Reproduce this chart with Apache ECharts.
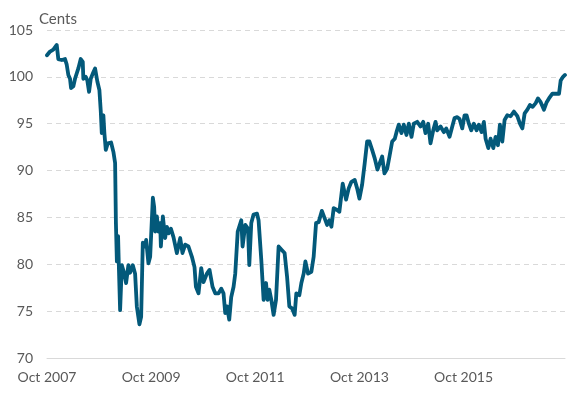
<!DOCTYPE html>
<html>
<head>
<meta charset="utf-8">
<script src="https://cdn.jsdelivr.net/npm/echarts@6/dist/echarts.min.js"></script>
<style>html,body{margin:0;padding:0;background:#fff}#c{width:576px;height:394px}</style>
</head>
<body>
<div id="c"></div>
<script>
// Decimal years (Oct 2007 = 2007.75)
var years = [2007.75,2007.808,2007.871,2007.904,2007.937,2007.967,2008.033,2008.096,2008.129,2008.160,
2008.192,2008.212,2008.256,2008.288,2008.352,2008.398,2008.437,2008.448,2008.494,2008.525,
2008.558,2008.590,2008.640,2008.673,2008.717,2008.756,2008.783,2008.802,2008.833,2008.852,
2008.879,2008.917,2008.981,2009.025,2009.058,2009.073,2009.092,2009.115,2009.129,2009.154,
2009.187,2009.231,2009.269,2009.313,2009.346,2009.398,2009.442,2009.475,2009.525,2009.558,
2009.590,2009.635,2009.654,2009.698,2009.731,2009.783,2009.808,2009.827,2009.860,2009.890,
2009.923,2009.937,2009.975,2010.019,2010.052,2010.083,2010.129,2010.179,2010.244,2010.308,
2010.352,2010.404,2010.467,2010.533,2010.583,2010.610,2010.660,2010.712,2010.756,2010.821,
2010.871,2010.929,2010.981,2011.044,2011.096,2011.140,2011.173,2011.206,2011.250,2011.288,
2011.333,2011.365,2011.413,2011.481,2011.506,2011.558,2011.610,2011.635,2011.673,2011.717,
2011.783,2011.813,2011.865,2011.910,2011.956,2011.987,2012.019,2012.058,2012.102,2012.148,
2012.198,2012.263,2012.313,2012.360,2012.404,2012.456,2012.506,2012.538,2012.596,2012.635,
2012.679,2012.712,2012.763,2012.827,2012.871,2012.917,2012.967,2013.029,2013.083,2013.129,
2013.173,2013.212,2013.256,2013.321,2013.365,2013.429,2013.494,2013.544,2013.596,2013.660,
2013.706,2013.750,2013.802,2013.852,2013.898,2013.942,2013.994,2014.044,2014.096,2014.140,
2014.187,2014.231,2014.283,2014.327,2014.379,2014.429,2014.462,2014.506,2014.558,2014.602,
2014.654,2014.698,2014.750,2014.794,2014.860,2014.923,2014.975,2015.019,2015.071,2015.115,
2015.167,2015.212,2015.244,2015.308,2015.371,2015.417,2015.481,2015.533,2015.577,2015.629,
2015.673,2015.725,2015.769,2015.808,2015.852,2015.898,2015.948,2016.000,2016.044,2016.096,
2016.140,2016.173,2016.225,2016.269,2016.321,2016.365,2016.410,2016.448,2016.494,2016.538,
2016.590,2016.654,2016.717,2016.783,2016.833,2016.879,2016.923,2016.975,2017.025,2017.077,
2017.135,2017.179,2017.231,2017.294,2017.346,2017.390,2017.456,2017.519,2017.583,2017.615,
2017.660,2017.698];
// US cents
var cents = [102.3,102.7,102.9,102.8,103.4,101.9,101.8,101.9,101.3,100.2,
99.8,98.8,99.0,99.8,100.9,101.9,101.6,99.8,100.0,99.6,
98.4,99.8,100.5,100.9,99.5,98.6,96.3,94.0,95.9,94.0,
92.2,92.9,93.0,92.0,90.8,84.5,80.3,83.0,80.0,75.1,
79.9,79.1,78.0,79.9,79.1,79.9,79.0,75.5,73.6,74.4,
82.3,81.9,82.6,80.1,80.8,87.1,86.1,83.5,85.1,83.5,
84.4,81.9,85.1,82.8,84.0,83.3,83.8,82.9,81.2,82.8,
81.2,82.1,81.9,80.8,79.7,77.6,76.9,79.6,78.1,79.0,
79.4,77.6,76.9,76.9,77.4,76.9,74.8,75.5,74.1,76.5,
77.6,79.0,83.5,84.7,81.9,84.2,83.8,79.9,84.4,85.3,
85.4,84.7,80.5,76.2,78.0,76.2,77.3,76.2,74.6,76.2,
81.9,81.5,81.2,78.7,75.5,75.3,74.6,76.9,76.7,78.0,
79.0,80.3,79.0,79.2,80.8,84.4,84.5,85.7,84.9,84.2,
84.7,84.0,86.0,85.8,85.6,88.6,86.9,88.1,88.8,89.0,
88.1,87.0,88.5,90.8,93.1,93.1,92.2,91.3,90.1,90.8,
91.5,89.7,90.2,91.5,93.1,93.4,94.1,94.9,94.0,94.9,
93.8,95.0,93.6,95.0,95.2,94.7,95.2,94.0,95.0,92.9,
94.3,95.2,94.3,94.7,94.1,94.5,93.6,94.7,95.6,95.7,
95.5,94.5,95.9,95.9,95.0,94.3,95.0,94.3,94.9,94.1,
95.2,93.4,92.4,93.4,92.4,93.6,92.7,94.9,93.1,95.4,
95.9,95.8,96.3,95.8,95.0,94.5,96.1,96.5,97.0,96.8,
97.2,97.7,97.3,96.5,97.3,97.7,98.2,98.2,98.2,99.6,
100.0,100.2];
var yTicks = [70, 75, 80, 85, 90, 95, 100, 105];
var xLabelYears = [2007, 2009, 2011, 2013, 2015];

var START = 2007.75;
var data = years.map(function (t, i) { return [(t - START) * 12, cents[i]]; });
var lastM = (years[years.length - 1] - START) * 12;

var chart = echarts.init(document.getElementById('c'), null, {renderer: 'canvas'});
chart.setOption({
  animation: false,
  backgroundColor: '#ffffff',
  title: {
    text: 'Cents', left: 34, top: 7,
    textStyle: {fontFamily: 'Lato', fontSize: 15, fontWeight: 'normal', color: '#595959'}
  },
  grid: {left: 47, right: 11, top: 30, bottom: 36, containLabel: false},
  xAxis: {
    type: 'value', min: 0, max: lastM, interval: 24,
    axisLine: {show: true, lineStyle: {color: '#d9d9d9', width: 1}},
    axisTick: {show: false},
    splitLine: {show: false},
    axisLabel: {
      margin: 12, fontFamily: 'Lato', fontSize: 14, color: '#595959',
      showMaxLabel: false,
      formatter: function (v) {
        var y = 2007 + Math.round(v) / 12;
        if (Math.abs(v % 24) > 0.01) return '';
        return xLabelYears.indexOf(y) >= 0 ? 'Oct ' + y : '';
      }
    }
  },
  yAxis: {
    type: 'value', min: yTicks[0], max: yTicks[yTicks.length - 1], interval: 5,
    axisLine: {show: false}, axisTick: {show: false},
    splitLine: {show: true, lineStyle: {color: '#d9d9d9', type: [5, 4], width: 1}},
    axisLabel: {margin: 14, fontFamily: 'Lato', fontSize: 14, color: '#595959'}
  },
  series: [{
    type: 'line', data: data, showSymbol: false, symbol: 'none',
    lineStyle: {color: '#03597a', width: 3.8, join: 'round', cap: 'round'},
    z: 3
  }]
});
</script>
</body>
</html>
